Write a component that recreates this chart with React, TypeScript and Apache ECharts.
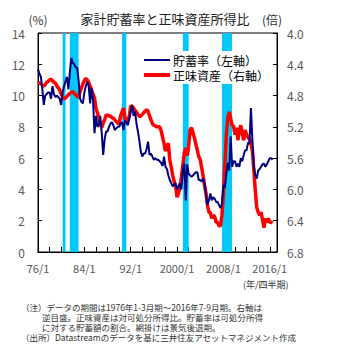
import React, { useEffect, useRef } from "react";
import * as echarts from "echarts";

// Quarterly categories 1976Q1 .. 2017Q2 (axis extends slightly past the data)
const quarters: string[] = [];
for (let y = 1976; y <= 2017; y++) {
  for (let q = 1; q <= 4; q++) {
    if (y === 2017 && q > 2) break;
    quarters.push(`${y}Q${q}`);
  }
}

const xTickLabels = ["76/1", "84/1", "92/1", "2000/1", "2008/1", "2016/1"];

// Household savings rate (%), left axis, 1976Q1 - 2016Q3
const savingsRate = [
  11.7, 11.4, 11.2, 10.4,
  9.4, 10.0, 10.1, 10.2,
  10.2, 9.8, 10.6, 10.1,
  9.9, 10.0, 9.9, 9.8,
  9.4, 10.2, 10.6, 10.9,
  11.2, 10.4, 11.5, 12.4,
  12.1, 12.0, 11.8, 11.8,
  11.0, 9.8, 9.6, 9.5,
  10.2, 10.6, 10.9, 10.6,
  9.5, 10.5, 9.7, 7.6,
  8.7, 8.0, 8.1, 8.7,
  7.6, 6.2, 7.2, 7.7,
  7.7, 8.0, 8.2, 8.3,
  8.1, 7.8, 7.9, 8.0,
  8.0, 8.2, 8.3, 7.8,
  8.4, 8.3, 8.1, 8.5,
  9.0, 9.4, 8.7, 9.0,
  8.2, 7.7, 7.1, 6.4,
  6.1, 6.3, 6.3, 6.6,
  7.05, 6.2, 6.3, 6.1,
  5.9, 6.0, 5.9, 5.9,
  5.8, 5.7, 5.5, 6.1,
  5.45, 5.3, 4.9, 4.6,
  4.4, 4.2, 4.3, 4.4,
  4.0, 4.2, 4.4, 4.0,
  5.2, 5.65, 3.3, 5.6,
  5.0, 4.9, 4.8, 4.9,
  5.0, 5.1, 5.1, 4.6,
  4.6, 4.5, 4.7, 4.4,
  3.6, 3.0, 3.3, 3.75,
  3.3, 3.5, 3.4, 3.2,
  3.2, 3.0, 2.8, 3.1,
  4.3, 4.1, 5.0, 5.7,
  5.2, 7.4, 5.45, 5.8,
  5.8, 5.45, 5.65, 5.45,
  6.0, 5.8, 6.2, 6.5,
  6.5, 7.0, 6.9, 9.2,
  7.2, 5.5, 4.9, 4.7,
  5.2, 5.3, 5.45, 5.6,
  5.65, 5.45, 5.6, 5.8,
  6.0, 6.0, 5.9,
];

// Net worth to disposable income ratio (times), right axis (inverted)
const netWorthRatio = [
  4.63, 4.64, 4.65, 4.67,
  4.68, 4.66, 4.63, 4.62,
  4.60, 4.59, 4.61, 4.63,
  4.64, 4.68, 4.70, 4.73,
  4.78, 4.82, 4.84, 4.83,
  4.81, 4.79, 4.77, 4.76,
  4.75, 4.77, 4.79, 4.81,
  4.82, 4.75, 4.70, 4.65,
  4.61, 4.58, 4.60, 4.63,
  4.68, 4.73, 4.78, 4.83,
  4.96, 5.02, 5.09, 5.16,
  5.21, 5.15, 5.11, 5.05,
  5.05, 5.06, 5.06, 5.08,
  5.09, 5.11, 5.13, 5.15,
  5.16, 5.06, 5.01, 4.96,
  5.09, 5.14, 5.10, 5.07,
  4.93, 4.94, 4.96, 4.99,
  5.01, 5.04, 5.07, 5.06,
  5.04, 5.02, 5.00, 4.98,
  5.00, 5.06, 5.11, 5.16,
  5.18, 5.19, 5.20, 5.20,
  5.20, 5.25, 5.33, 5.41,
  5.51, 5.45, 5.41, 5.62,
  5.72, 5.82, 5.90, 5.96,
  6.10, 6.05, 5.97, 5.84,
  5.69, 5.53, 5.47, 5.57,
  5.45, 5.24, 5.21, 5.28,
  5.34, 5.42, 5.50, 5.58,
  5.62, 5.72, 5.83, 5.95,
  6.05, 6.20, 6.29, 6.30,
  6.37, 6.33, 6.35, 6.42,
  6.42, 6.47, 6.46, 6.33,
  6.07, 5.69, 5.30, 5.09,
  5.01, 5.09, 5.18, 5.19,
  5.30, 5.21, 5.37, 5.25,
  5.18, 5.28, 5.37, 5.24,
  5.30, 5.33, 5.36, 5.41,
  5.50, 5.75, 6.01, 6.23,
  6.29, 6.33, 6.29, 6.39,
  6.49, 6.37, 6.42, 6.37,
  6.42, 6.42, 6.43,
];

// Recession periods (shaded)
const recessionStart = ["1980Q2", "1981Q3", "1990Q3", "2001Q1", "2007Q4"];
const recessionEnd = ["1980Q4", "1983Q1", "1991Q2", "2002Q1", "2009Q3"];

const seriesNames = ["貯蓄率（左軸）", "正味資産（右軸）"];

const noteLines = [
  "（注）データの期間は1976年1-3月期～2016年7-9月期。右軸は",
  "逆目盛。正味資産は対可処分所得比。貯蓄率は可処分所得",
  "に対する貯蓄額の割合。網掛けは景気後退期。",
  "（出所）Datastreamのデータを基に三井住友アセットマネジメント作成",
];

const FONT = "'Noto Sans CJK JP', 'Noto Sans', sans-serif";

export default function App() {
  const ref = useRef<HTMLDivElement>(null);

  useEffect(() => {
    if (!ref.current) return;
    const chart = echarts.init(ref.current, undefined, { renderer: "svg" });

    const option: any = {
      animation: false,
      textStyle: { fontFamily: FONT },
      title: {
        text: "家計貯蓄率と正味資産所得比",
        left: 160,
        textAlign: "center",
        top: 7,
        textStyle: { fontSize: 13, fontWeight: "normal", color: "#222", fontFamily: FONT },
      },
      legend: {
        data: [
          { name: seriesNames[0], icon: "path://M0,0H26V2H0Z" },
          { name: seriesNames[1], icon: "path://M0,0H26V4H0Z" },
        ],
        orient: "vertical",
        left: 140,
        top: 51,
        padding: [3, 4, 3, 4],
        itemGap: 3,
        itemWidth: 26,
        itemHeight: 14,
        symbolKeepAspect: true,
        backgroundColor: "#ffffff",
        textStyle: { fontSize: 12, color: "#000", fontFamily: FONT, padding: [0, 0, 0, -2] },
      },
      grid: {
        left: 38,
        right: 73,
        top: 33,
        bottom: 107,
        show: true,
        borderColor: "#000",
        borderWidth: 1,
        backgroundColor: "transparent",
      },
      xAxis: {
        type: "category",
        data: quarters,
        boundaryGap: false,
        axisLine: { lineStyle: { color: "#000", width: 1 } },
        axisTick: { inside: true, interval: 7, length: 5, lineStyle: { color: "#000" } },
        axisLabel: {
          interval: 31,
          margin: 10,
          fontSize: 11,
          color: "#595959",
          fontFamily: FONT,
          formatter: (_v: string, i: number) => (i % 32 === 0 ? xTickLabels[i / 32] : ""),
        },
        splitLine: { show: false },
      },
      yAxis: [
        {
          type: "value",
          min: 0,
          max: 14,
          interval: 2,
          name: "(%)",
          nameLocation: "end",
          nameGap: 8,
          nameTextStyle: { fontSize: 12, color: "#333", align: "center", fontFamily: FONT },
          axisLine: { show: true, lineStyle: { color: "#000" } },
          axisTick: { show: true, inside: true, length: 4, lineStyle: { color: "#000" } },
          axisLabel: { fontSize: 12, color: "#595959", margin: 13, fontFamily: FONT },
          splitLine: { show: false },
        },
        {
          type: "value",
          min: 4.0,
          max: 6.8,
          interval: 0.4,
          inverse: true,
          position: "right",
          name: "(倍)",
          nameLocation: "start",
          nameGap: 8,
          nameTextStyle: { fontSize: 12, color: "#333", align: "center", padding: [0, 10, 0, 0], fontFamily: FONT },
          axisLine: { show: true, lineStyle: { color: "#000" } },
          axisTick: { show: true, inside: true, length: 4, lineStyle: { color: "#000" } },
          axisLabel: {
            fontSize: 12,
            color: "#595959",
            margin: 10,
            fontFamily: FONT,
            formatter: (v: number) => v.toFixed(1),
          },
          splitLine: { show: false },
        },
      ],
      series: [
        {
          name: seriesNames[1],
          type: "line",
          yAxisIndex: 1,
          data: netWorthRatio,
          symbol: "none",
          lineStyle: { color: "#FF0000", width: 3.5 },
          itemStyle: { color: "#FF0000" },
          z: 3,
          markArea: {
            silent: true,
            itemStyle: { color: "#00C8F8", opacity: 1 },
            data: recessionStart.map((s, i) => [{ xAxis: s }, { xAxis: recessionEnd[i] }]),
          },
        },
        {
          name: seriesNames[0],
          type: "line",
          yAxisIndex: 0,
          data: savingsRate,
          symbol: "none",
          lineStyle: { color: "#000080", width: 2 },
          itemStyle: { color: "#000080" },
          z: 4,
        },
      ],
      graphic: [
        {
          type: "text",
          left: 243,
          top: 280,
          style: { text: "(年/四半期)", fill: "#333", font: `9px ${FONT}`, lineHeight: 9 },
        },
        ...noteLines.map((t, i) => ({
          type: "text",
          left: i === 1 || i === 2 ? 42 : 21,
          top: [303, 313, 323, 333][i],
          style: { text: t, fill: "#333", font: `8.5px ${FONT}`, lineHeight: 8.5 },
        })),
      ],
    };

    chart.setOption(option);
    return () => chart.dispose();
  }, []);

  return (
    <div
      ref={ref}
      style={{ position: "absolute", left: 0, top: 0, width: 350, height: 359 }}
    />
  );
}
